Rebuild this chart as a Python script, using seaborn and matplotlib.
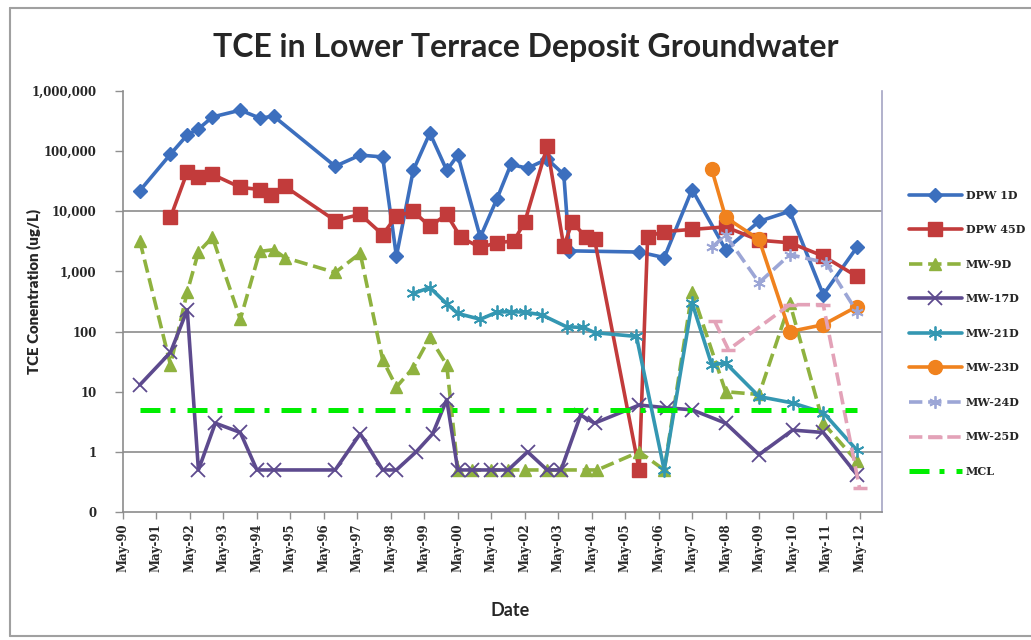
import matplotlib
matplotlib.use("Agg")
import numpy as np
import pandas as pd
import seaborn as sns
import matplotlib.pyplot as plt
import matplotlib.dates as mdates
from matplotlib.lines import Line2D
from matplotlib.ticker import FixedLocator, FixedFormatter, NullLocator

sns.set_style("white")
plt.rcParams['font.family'] = ['DejaVu Serif']

# --- data (sample month, TCE ug/L) ---
dpw1d_dates = ["1990-11", "1991-10", "1992-04", "1992-08", "1993-01", "1993-11", "1994-06", "1994-11",
               "1996-09", "1997-06", "1998-02", "1998-07", "1999-01", "1999-07", "2000-01", "2000-05",
               "2001-01", "2001-07", "2001-12", "2002-06", "2003-01", "2003-07", "2003-09", "2005-10",
               "2006-07", "2007-05", "2008-05", "2009-05", "2010-04", "2011-04", "2012-04"]
dpw1d_vals = [22000, 89000, 186000, 234000, 370000, 480000, 355000, 380000,
              56000, 86000, 80000, 1800, 48000, 200000, 48000, 86000,
              3700, 16000, 60000, 52000, 74000, 41000, 2200, 2100,
              1700, 23000, 2300, 6800, 10000, 410, 2500]

dpw45d_dates = ["1991-10", "1992-04", "1992-08", "1993-01", "1993-11", "1994-06", "1994-10", "1995-03",
                "1996-09", "1997-06", "1998-02", "1998-07", "1999-01", "1999-07", "2000-01", "2000-06",
                "2001-01", "2001-07", "2002-01", "2002-05", "2003-01", "2003-07", "2003-10", "2004-03",
                "2004-06", "2005-10", "2006-01", "2006-07", "2007-05", "2008-05", "2009-05", "2010-04",
                "2011-04", "2012-04"]
dpw45d_vals = [7900, 45000, 37000, 41000, 25000, 23000, 19000, 26000,
               7000, 8900, 4100, 8300, 10000, 5600, 8900, 3700,
               2500, 3000, 3200, 6600, 120000, 2600, 6600, 3700,
               3400, 0.5, 3800, 4600, 5000, 5500, 3300, 3000,
               1800, 830]

mw9d_dates = ["1990-11", "1991-10", "1992-04", "1992-08", "1993-01", "1993-11", "1994-06", "1994-11",
              "1995-03", "1996-09", "1997-06", "1998-02", "1998-07", "1999-01", "1999-07", "2000-01",
              "2000-05", "2000-10", "2001-05", "2001-11", "2002-05", "2003-01", "2003-06", "2004-03",
              "2004-07", "2005-10", "2006-07", "2007-05", "2008-05", "2009-05", "2010-04", "2011-04",
              "2012-04"]
mw9d_vals = [3200, 28, 460, 2100, 3700, 160, 2150, 2300,
             1700, 960, 2000, 34, 12, 25, 80, 28,
             0.5, 0.5, 0.5, 0.5, 0.5, 0.5, 0.5, 0.5,
             0.5, 1.0, 0.5, 460, 10, 9, 300, 3.0,
             0.7]

mw17d_dates = ["1990-11", "1991-10", "1992-04", "1992-08", "1993-02", "1993-11", "1994-05", "1994-11",
               "1996-09", "1997-06", "1998-02", "1998-07", "1999-02", "1999-08", "2000-01", "2000-05",
               "2000-10", "2001-05", "2001-11", "2002-06", "2003-01", "2003-06", "2004-01", "2004-06",
               "2005-10", "2006-08", "2007-05", "2008-05", "2009-05", "2010-05", "2011-04", "2012-04"]
mw17d_vals = [13, 45, 230, 0.5, 3.0, 2.1, 0.5, 0.5,
              0.5, 2.0, 0.5, 0.5, 1.0, 2.0, 7.4, 0.5,
              0.5, 0.5, 0.5, 1.0, 0.5, 0.5, 4.1, 3.0,
              6.0, 5.4, 5.0, 3.0, 0.9, 2.3, 2.1, 0.42]

mw21d_dates = ["1999-01", "1999-07", "2000-01", "2000-05", "2001-01", "2001-07", "2001-12", "2002-05",
               "2002-11", "2003-08", "2004-02", "2004-06", "2005-09", "2006-07", "2007-05", "2007-12",
               "2008-05", "2009-05", "2010-05", "2011-04", "2012-04"]
mw21d_vals = [430, 540, 290, 200, 160, 210, 215, 210,
              190, 120, 117, 96, 83, 0.5, 300, 28,
              30, 8.3, 6.5, 4.5, 1.07]

mw23d_dates = ["2007-12", "2008-05", "2009-05", "2010-04", "2011-04", "2012-04"]
mw23d_vals = [50000, 7900, 3400, 100, 130, 260]

mw24d_dates = ["2007-12", "2008-05", "2009-05", "2010-04", "2011-05", "2012-04"]
mw24d_vals = [2500, 4000, 650, 1900, 1400, 215]

mw25d_dates = ["2008-01", "2008-06", "2010-04", "2011-04", "2012-05"]
mw25d_vals = [150, 50, 280, 280, 0.25]

mcl_dates = ["1990-11", "2012-04"]
mcl_vals = [5, 5]

x_tick_labels = [f"May-{y % 100:02d}" for y in range(1990, 2013)]
y_tick_vals = [0.1, 1, 10, 100, 1000, 10000, 100000, 1000000]
y_tick_labels = ["0", "1", "10", "100", "1,000", "10,000", "100,000", "1,000,000"]
grid_vals = [1, 100, 10000]

fig, ax = plt.subplots(figsize=(10.31, 6.4), dpi=100)
fig.subplots_adjust(left=123 / 1031, right=882 / 1031, bottom=0.2, top=549 / 640)

series = [
    ("DPW 1D", dpw1d_dates, dpw1d_vals, "#3C6FBE", "D", 7, "-", 1),
    ("DPW 45D", dpw45d_dates, dpw45d_vals, "#C23B3B", "s", 10, "-", 1),
    ("MW-9D", mw9d_dates, mw9d_vals, "#8FB23F", "^", 9, "--", 1),
    ("MW-17D", mw17d_dates, mw17d_vals, "#5D4A8E", "x", 10, "-", 1.3),
    ("MW-21D", mw21d_dates, mw21d_vals, "#3497B2", (6, 2, 0), 10, "-", 1.3),
    ("MW-23D", mw23d_dates, mw23d_vals, "#F0821E", "o", 10, "-", 1),
    ("MW-24D", mw24d_dates, mw24d_vals, "#9CA6D6", (6, 2, 0), 9, "--", 1.3),
    ("MW-25D", mw25d_dates, mw25d_vals, "#E3A2B8", "_", 10, "--", 2.5),
]

for name, d, v, color, marker, ms, ls, mew in series:
    sns.lineplot(x=pd.to_datetime(d), y=v, ax=ax, color=color, marker=marker,
                 markersize=ms, markeredgecolor=color, markerfacecolor=color,
                 markeredgewidth=mew, linestyle=ls, linewidth=2.6, label=name,
                 sort=False)

sns.lineplot(x=pd.to_datetime(mcl_dates), y=mcl_vals, ax=ax, color="#00EE00",
             linewidth=3.6, linestyle=(0, (4, 2, 1, 2.4)), label="MCL", sort=False)

ax.set_yscale("log")
ax.set_ylim(0.1, 1e6)
ax.yaxis.set_major_locator(FixedLocator(y_tick_vals))
ax.yaxis.set_major_formatter(FixedFormatter(y_tick_labels))
ax.yaxis.set_minor_locator(NullLocator())
for t in ax.get_yticklabels():
    t.set_fontweight("bold")
    t.set_fontsize(8.5)

for g in grid_vals:
    ax.axhline(g, color="#8C8C8C", linewidth=1.2, zorder=0)

ax.set_xlim(pd.Timestamp("1990-05-01"), pd.Timestamp("2013-01-01"))
xt = mdates.date2num(pd.date_range("1990-05-01", "2012-05-01", freq="12MS"))
ax.set_xticks(xt, x_tick_labels, rotation=90, fontweight="bold", fontsize=8.5)
ax.xaxis.set_minor_locator(NullLocator())

ax.tick_params(axis="x", direction="out", length=5, width=1, color="#909090", pad=3, bottom=True)
ax.tick_params(axis="y", direction="out", length=6, width=1, color="#909090", pad=13, left=True)

for s in ["left", "bottom"]:
    ax.spines[s].set_color("#8C8C8C")
    ax.spines[s].set_linewidth(1.2)
ax.spines["right"].set_color("#A4A4C4")
ax.spines["right"].set_linewidth(1.2)
ax.spines["top"].set_visible(False)

ax.set_ylabel("TCE Conentration (ug/L)", fontfamily="Lato", fontweight="heavy", fontsize=10.8)
ax.yaxis.set_label_coords(-0.108, 0.523)
ax.set_xlabel("Date", fontfamily="Lato", fontweight="bold", fontsize=13)
ax.xaxis.set_label_coords(0.51, -0.214)

fig.text(0.51, 0.925, "TCE in Lower Terrace Deposit Groundwater", ha="center", va="center",
         fontfamily="Lato", fontweight="bold", fontsize=23)

ax.legend(loc="upper left", bbox_to_anchor=(903 / 1031, 1 - 184 / 640), bbox_transform=fig.transFigure,
          frameon=False, borderpad=0, handlelength=4.8, handletextpad=0.35, labelspacing=2.12,
          prop={"family": "DejaVu Serif", "weight": "bold", "size": 8})

# chart area border
border = "#A0A0A0"
fig.add_artist(Line2D([10 / 1031, 10 / 1031], [4 / 640, 1 - 8 / 640], transform=fig.transFigure, color=border, lw=1.5))
fig.add_artist(Line2D([10 / 1031, 1], [1 - 8 / 640, 1 - 8 / 640], transform=fig.transFigure, color=border, lw=1.5))
fig.add_artist(Line2D([10 / 1031, 1], [4 / 640, 4 / 640], transform=fig.transFigure, color=border, lw=1.5))

fig.savefig("out.png", dpi=100)
